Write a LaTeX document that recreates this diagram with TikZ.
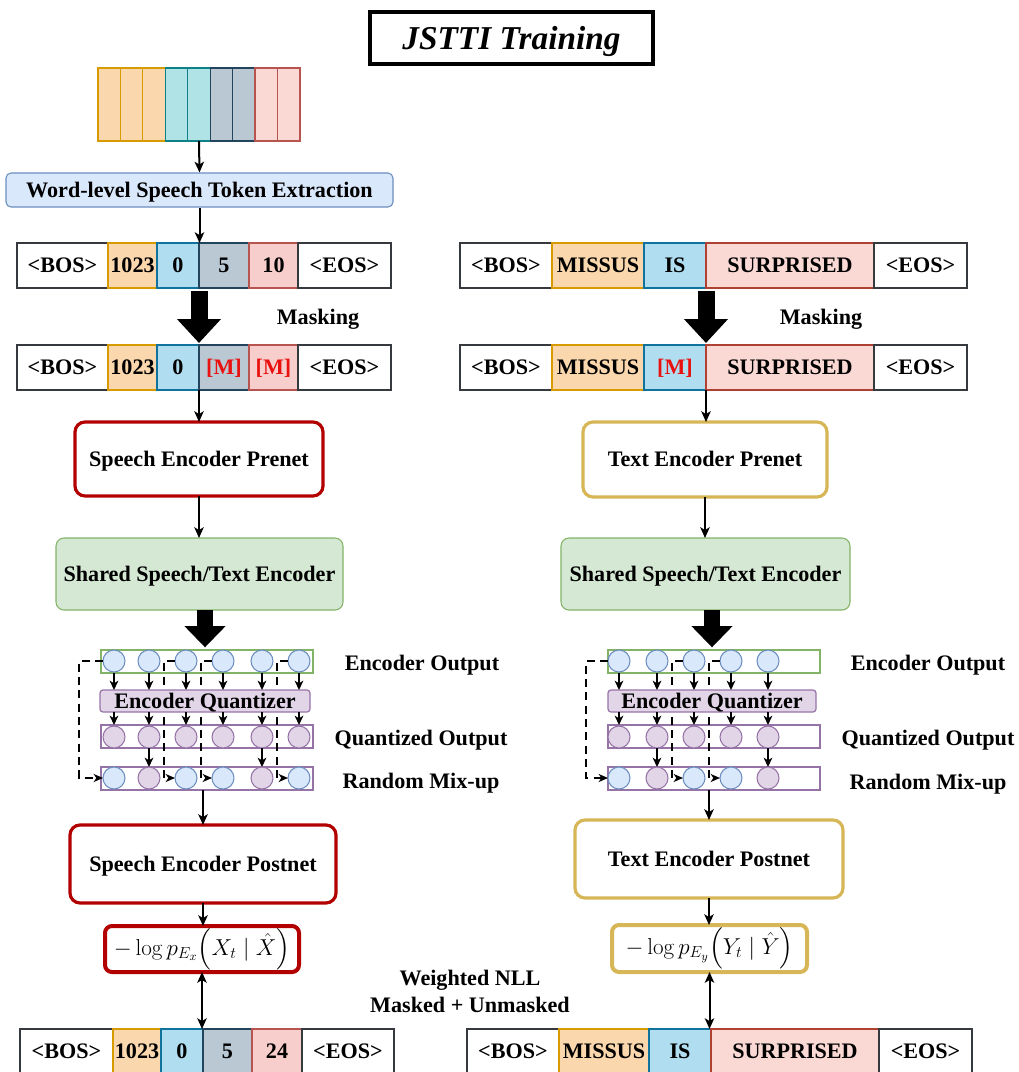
\documentclass[tikz,border=0pt]{standalone}
\usepackage{amsmath}
\usepackage[no-math]{fontspec}
\setmainfont{Liberation Serif}
\usetikzlibrary{arrows.meta,calc}

\definecolor{orF}{HTML}{FAD7AC}\definecolor{orD}{HTML}{D79B00}
\definecolor{teF}{HTML}{B0E3E6}\definecolor{teD}{HTML}{0E8088}
\definecolor{slF}{HTML}{BAC8D3}\definecolor{slD}{HTML}{23445D}
\definecolor{pkF}{HTML}{FAD9D5}\definecolor{pkD}{HTML}{AE4132}
\definecolor{blF}{HTML}{B1DDF0}\definecolor{blD}{HTML}{10739E}
\definecolor{rdF}{HTML}{F8CECC}\definecolor{rdD}{HTML}{B85450}
\definecolor{wlF}{HTML}{DAE8FC}\definecolor{wlD}{HTML}{6C8EBF}
\definecolor{grF}{HTML}{D5E8D4}\definecolor{grD}{HTML}{82B366}
\definecolor{puF}{HTML}{E1D5E7}\definecolor{puD}{HTML}{9673A6}
\definecolor{spD}{HTML}{B20000}\definecolor{txD}{HTML}{D6B656}
\definecolor{edge}{HTML}{36393D}
\definecolor{maskred}{HTML}{E8110F}

\tikzset{
  sz/.style 2 args={minimum width=#1*0.75pt, minimum height=#2*0.75pt},
  tok/.style={line width=0.9pt, inner sep=0pt, outer sep=0pt, anchor=west, minimum height=45*0.75pt},
  plaincell/.style={tok, fill=white, draw=edge},
  orcell/.style={tok, fill=orF, draw=orD},
  blcell/.style={tok, fill=blF, draw=blD},
  slcell/.style={tok, fill=slF, draw=slD},
  rdcell/.style={tok, fill=rdF, draw=rdD},
  pkcell/.style={tok, fill=pkF, draw=pkD},
  strip/.style={line width=0.9pt, inner sep=0pt, outer sep=0pt, anchor=north west, sz={22.44}{73}},
  netbox/.style={rounded corners=10*0.75pt, line width=2.4pt, fill=white, inner sep=0pt, outer sep=0pt},
  lossbox/.style={rounded corners=7*0.75pt, line width=3pt, fill=white, inner sep=0pt, outer sep=0pt,
                  text height=20.7pt, text depth=11.7pt, font=\fontsize{18pt}{20pt}\selectfont},
  sharedbox/.style={rounded corners=8*0.75pt, line width=0.8pt, fill=grF, draw=grD, inner sep=0pt, outer sep=0pt},
  rowbox/.style={line width=1.1pt, inner sep=0pt, outer sep=0pt, sz={212}{23}},
  quantbox/.style={rounded corners=3*0.75pt, line width=0.9pt, fill=puF, draw=puD, inner sep=0pt, outer sep=0pt},
  encdot/.style={circle, fill=wlF, draw=wlD, line width=0.8pt, minimum size=22*0.75pt, inner sep=0pt, outer sep=0pt},
  qdot/.style={circle, fill=puF, draw=puD, line width=0.8pt, minimum size=22*0.75pt, inner sep=0pt, outer sep=0pt},
  arr/.style={line width=1.5pt, -{Stealth[length=8pt, width=7pt, inset=2pt]}},
  darr/.style={line width=1.5pt, {Stealth[length=8pt, width=7pt, inset=2pt]}-{Stealth[length=8pt, width=7pt, inset=2pt]}},
  dasharr/.style={line width=1.5pt, dash pattern=on 6pt off 4pt, -{Stealth[length=7pt, width=6pt, inset=2pt]}},
  smallarr/.style={line width=1.3pt, -{Stealth[length=7pt, width=6.5pt, inset=2pt]}},
  blockarr/.style={line width=12.75pt, black, -{Triangle[length=18pt, width=32pt]}},
  blockarrs/.style={line width=12.5pt, black, -{Triangle[length=16pt, width=30pt]}},
  lbl/.style={inner sep=0pt},
}

\begin{document}
\begin{tikzpicture}[x=0.75pt, y=-0.75pt,
  every node/.style={font=\fontsize{16.6pt}{19pt}\selectfont\bfseries, text height=12pt, text depth=1pt}]
\useasboundingbox (0,0) rectangle (1019,1072);
\clip (0,0) rectangle (1019,1072);

% ---------- title ----------
\node[draw=black, line width=2.3pt, fill=white, sz={283}{52}, inner sep=0pt, text height=17.5pt, text depth=1pt,
      font=\fontsize{25pt}{28pt}\selectfont\bfseries\itshape] (title) at (511.5,38) {JSTTI Training};

% ---------- speech frames ----------
\foreach \i/\f/\d in {1/orF/orD,2/orF/orD,3/orF/orD,4/teF/teD,5/teF/teD,6/slF/slD,7/slF/slD,8/pkF/rdD,9/pkF/rdD}
  \node[strip, fill=\f, draw=\d] (sp\i) at ({98+22.44*(\i-1)},68) {};

\node[rounded corners=5*0.75pt, fill=wlF, draw=wlD, line width=0.8pt, sz={387}{34}, inner sep=0pt] (wl) at (199.5,190)
  {Word-level Speech Token Extraction};
\draw[arr] (sp5.south) -- (wl.north);

% ---------- speech token rows ----------
\node[plaincell, minimum width=91*0.75pt] (L1bos) at (17,265.5) {<BOS>};
\node[orcell, minimum width=49*0.75pt] (L1a) at (108,265.5) {1023};
\node[blcell, minimum width=42*0.75pt] (L1b) at (157,265.5) {0};
\node[slcell, minimum width=50*0.75pt] (L1c) at (199,265.5) {5};
\node[rdcell, minimum width=49*0.75pt] (L1d) at (249,265.5) {10};
\node[plaincell, minimum width=93*0.75pt] (L1eos) at (298,265.5) {<EOS>};

\node[plaincell, minimum width=91*0.75pt] (L2bos) at (17,367.5) {<BOS>};
\node[orcell, minimum width=49*0.75pt] (L2a) at (108,367.5) {1023};
\node[blcell, minimum width=42*0.75pt] (L2b) at (157,367.5) {0};
\node[slcell, minimum width=50*0.75pt, text=maskred] (L2c) at (199,367.5) {[M]};
\node[rdcell, minimum width=49*0.75pt, text=maskred] (L2d) at (249,367.5) {[M]};
\node[plaincell, minimum width=93*0.75pt] (L2eos) at (298,367.5) {<EOS>};

\draw[arr] (wl.south) -- (wl.south |- L1c.north);
\draw[blockarr, shorten <=2.5pt, shorten >=1.5pt] (L1c.south west) -- (L2c.north west);
\node[lbl] (Lmask) at (318,317) {Masking};

% ---------- text token rows ----------
\node[plaincell, minimum width=92*0.75pt] (R1bos) at (460,265.5) {<BOS>};
\node[orcell, minimum width=92*0.75pt] (R1a) at (552,265.5) {MISSUS};
\node[blcell, minimum width=62*0.75pt] (R1b) at (644,265.5) {IS};
\node[pkcell, minimum width=168*0.75pt] (R1c) at (706,265.5) {SURPRISED};
\node[plaincell, minimum width=93*0.75pt] (R1eos) at (874,265.5) {<EOS>};

\node[plaincell, minimum width=92*0.75pt] (R2bos) at (460,367.5) {<BOS>};
\node[orcell, minimum width=92*0.75pt] (R2a) at (552,367.5) {MISSUS};
\node[blcell, minimum width=62*0.75pt, text=maskred] (R2b) at (644,367.5) {[M]};
\node[pkcell, minimum width=168*0.75pt] (R2c) at (706,367.5) {SURPRISED};
\node[plaincell, minimum width=93*0.75pt] (R2eos) at (874,367.5) {<EOS>};

\draw[blockarr, shorten <=2.5pt, shorten >=1.5pt] (R1c.south west) -- (R2c.north west);
\node[lbl] (Rmask) at (821,317) {Masking};

% ---------- prenets and shared encoders ----------
\node[netbox, draw=spD, sz={248}{74}] (Lpre) at (199,459) {Speech Encoder Prenet};
\node[netbox, draw=txD, sz={244}{75}] (Rpre) at (705,459.5) {Text Encoder Prenet};
\draw[arr] (L2c.south west) -- (L2c.south west |- Lpre.north);
\draw[arr] (R2c.south west) -- (R2c.south west |- Rpre.north);

\node[sharedbox, sz={287}{72}] (Lsh) at (199.5,574) {Shared Speech/Text Encoder};
\node[sharedbox, sz={289}{72}] (Rsh) at (705.5,574) {Shared Speech/Text Encoder};
\draw[arr] (Lpre.south) -- (Lpre.south |- Lsh.north);
\draw[arr] (Rpre.south) -- (Rpre.south |- Rsh.north);

% ---------- left quantizer stack ----------
\node[rowbox, draw=grD] (Leo) at (207,661.5) {};
\node[rowbox, draw=puD] (Lqo) at (207,736.5) {};
\node[rowbox, draw=puD] (Lmx) at (207,778.5) {};
\foreach \i/\x in {1/114,2/149,3/186,4/223,5/262,6/299} {
  \node[encdot] (Le\i) at (\x,661) {};
  \node[qdot] (Lqo\i) at (\x,737) {};
}
\foreach \i/\x/\s in {1/114/encdot,2/149/qdot,3/186/encdot,4/223/encdot,5/262/qdot,6/299/encdot}
  \node[\s] (Lmx\i) at (\x,778) {};

\coordinate (LdA) at (79,720);
\coordinate (LdB) at (164,720);
\coordinate (LdC) at (201,720);
\coordinate (LdD) at (277,720);
\draw[dasharr] (Le1.west) -| (LdA) |- (Lmx1.west);
\draw[dasharr] (Le3.west) -| (LdB) |- (Lmx3.west);
\draw[dasharr] (Le4.west) -| (LdC) |- (Lmx4.west);
\draw[dasharr] (Le6.west) -| (LdD) |- (Lmx6.west);

\node[quantbox, sz={210}{22}] (Lq) at (205,701) {Encoder Quantizer};
\foreach \i in {1,...,6} {
  \draw[smallarr] (Le\i.south |- Leo.south) -- (Le\i.south |- Lq.north);
  \draw[smallarr] (Le\i.south |- Lq.south) -- (Lqo\i.north |- Lqo.north);
}
\draw[smallarr] (Lqo2.south) -- (Lmx2.north);
\draw[smallarr] (Lqo5.south) -- (Lmx5.north);
\draw[blockarrs, shorten >=2pt] (Lsh.south -| Lq.north) -- (Lq.north |- Leo.north);

\node[lbl] (LlabEO) at (422,663) {Encoder Output};
\node[lbl] (LlabQO) at (421,738) {Quantized Output};
\node[lbl] (LlabMX) at (421,781) {Random Mix-up};

% ---------- right quantizer stack ----------
\node[rowbox, draw=grD] (Reo) at (714,661.5) {};
\node[rowbox, draw=puD] (Rqo) at (714,736.5) {};
\node[rowbox, draw=puD] (Rmx) at (714,778.5) {};
\foreach \i/\x in {1/619,2/657,3/694,4/731,5/768} {
  \node[encdot] (Re\i) at (\x,661) {};
  \node[qdot] (Rqo\i) at (\x,737) {};
}
\foreach \i/\x/\s in {1/619/encdot,2/657/qdot,3/694/encdot,4/731/encdot,5/768/qdot}
  \node[\s] (Rmx\i) at (\x,778) {};

\coordinate (RdA) at (586,720);
\coordinate (RdB) at (672,720);
\coordinate (RdC) at (709,720);
\draw[dasharr] (Re1.west) -| (RdA) |- (Rmx1.west);
\draw[dasharr] (Re3.west) -| (RdB) |- (Rmx3.west);
\draw[dasharr] (Re4.west) -| (RdC) |- (Rmx4.west);

\node[quantbox, sz={208}{22}] (Rq) at (712,701) {Encoder Quantizer};
\foreach \i in {1,...,5} {
  \draw[smallarr] (Re\i.south |- Reo.south) -- (Re\i.south |- Rq.north);
  \draw[smallarr] (Re\i.south |- Rq.south) -- (Rqo\i.north |- Rqo.north);
}
\draw[smallarr] (Rqo2.south) -- (Rmx2.north);
\draw[smallarr] (Rqo5.south) -- (Rmx5.north);
\draw[blockarrs, shorten >=2pt] (Rsh.south -| Rq.north) -- (Rq.north |- Reo.north);

\node[lbl] (RlabEO) at (928,663) {Encoder Output};
\node[lbl] (RlabQO) at (928,738) {Quantized Output};
\node[lbl] (RlabMX) at (928,782) {Random Mix-up};

% ---------- postnets and losses ----------
\node[netbox, draw=spD, sz={266}{78}] (Lpost) at (203,864) {Speech Encoder Postnet};
\node[netbox, draw=txD, sz={268}{78}] (Rpost) at (709,859) {Text Encoder Postnet};
\draw[arr] (Lpost.north |- Lmx.south) -- (Lpost.north);
\draw[arr] (Rpost.north |- Rmx.south) -- (Rpost.north);

\node[lossbox, draw=spD, sz={194}{46}] (Lloss) at (202,949)
  {$-\log p_{E_x}\Bigl(X_t \mid \hat{X}\Bigr)$};
\node[lossbox, draw=txD, sz={195}{47}] (Rloss) at (709.5,948.5)
  {$-\log p_{E_y}\Bigl(Y_t \mid \hat{Y}\Bigr)$};
\draw[arr] (Lpost.south) -- (Lpost.south |- Lloss.north);
\draw[arr] (Rpost.south) -- (Rpost.south |- Rloss.north);

\node[lbl] (nll1) at (470,978) {Weighted NLL};
\node[lbl] (nll2) at (470,1005) {Masked + Unmasked};

% ---------- target rows ----------
\node[plaincell, minimum width=93*0.75pt] (L3bos) at (20,1051.5) {<BOS>};
\node[orcell, minimum width=48*0.75pt] (L3a) at (113,1051.5) {1023};
\node[blcell, minimum width=42*0.75pt] (L3b) at (161,1051.5) {0};
\node[slcell, minimum width=49*0.75pt] (L3c) at (203,1051.5) {5};
\node[rdcell, minimum width=50*0.75pt] (L3d) at (252,1051.5) {24};
\node[plaincell, minimum width=92*0.75pt] (L3eos) at (302,1051.5) {<EOS>};

\node[plaincell, minimum width=92*0.75pt] (R3bos) at (467,1051.5) {<BOS>};
\node[orcell, minimum width=90*0.75pt] (R3a) at (559,1051.5) {MISSUS};
\node[blcell, minimum width=62*0.75pt] (R3b) at (649,1051.5) {IS};
\node[pkcell, minimum width=168*0.75pt] (R3c) at (711,1051.5) {SURPRISED};
\node[plaincell, minimum width=93*0.75pt] (R3eos) at (879,1051.5) {<EOS>};

\draw[darr] (Lloss.south) -- (Lloss.south |- L3c.north);
\draw[darr] (Rloss.south) -- (Rloss.south |- R3c.north);
\end{tikzpicture}
\end{document}
